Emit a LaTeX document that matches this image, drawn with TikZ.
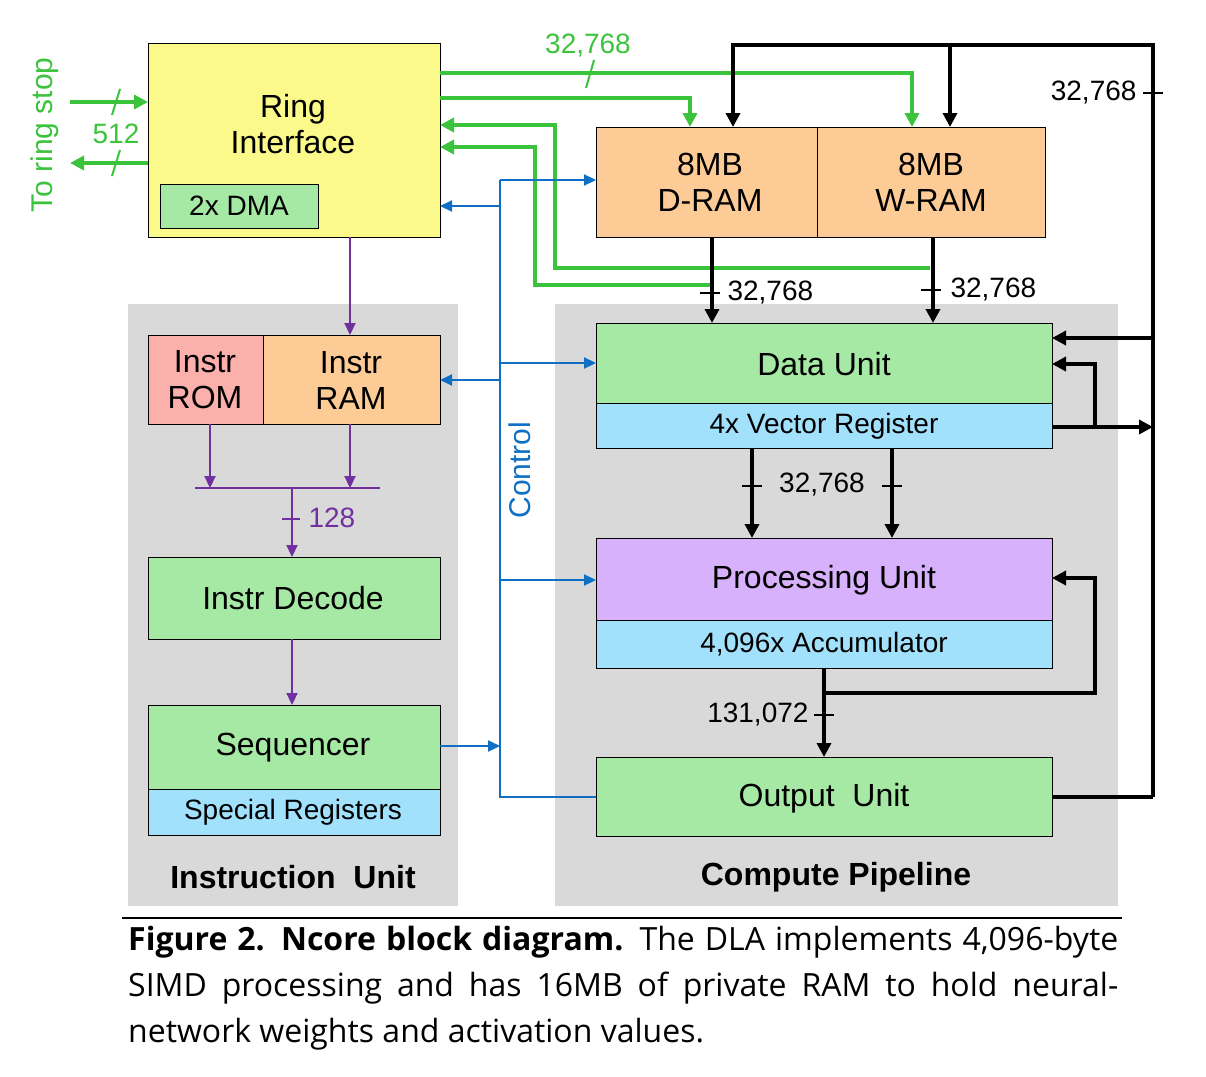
\documentclass[tikz,border=0pt]{standalone}
\usepackage{fontspec}
\setmainfont{Liberation Sans}
\newfontfamily\capfont{Open Sans}
\usetikzlibrary{arrows.meta}
\definecolor{cyel}{HTML}{FBF98A}
\definecolor{cgrn}{HTML}{A6E9A4}
\definecolor{corg}{HTML}{FDCB95}
\definecolor{cpnk}{HTML}{FBB0AC}
\definecolor{ccyn}{HTML}{A1E1FB}
\definecolor{cpur}{HTML}{D7B1FB}
\definecolor{cgry}{HTML}{D9D9D9}
\definecolor{lgrn}{HTML}{3BC43B}
\definecolor{lblu}{HTML}{0E6FC4}
\definecolor{lpur}{HTML}{7030A0}
\begin{document}
\begin{tikzpicture}[x=1pt,y=-1pt,
  box/.style={draw=black,line width=1.2pt,inner sep=0pt,anchor=north west},
  txt/.style={font=\fontsize{32}{36}\selectfont,align=center},
  stxt/.style={font=\fontsize{28}{30}\selectfont},
  gl/.style={draw=lgrn,line width=4pt},
  bl/.style={draw=black,line width=3.5pt},
  ul/.style={draw=lblu,line width=2.2pt},
  pl/.style={draw=lpur,line width=2.2pt},
  ar/.style={-{Triangle[length=14pt,width=14pt]}},
  sar/.style={-{Triangle[length=12pt,width=11pt]}},
  lab/.style={font=\fontsize{28}{30}\selectfont}]
\useasboundingbox (0,0) rectangle (1206,1076);
% backgrounds
\fill[cgry] (128,304) rectangle (458,906);
\fill[cgry] (555,304) rectangle (1118,906);
% boxes
\node[box,fill=cyel,minimum width=292pt,minimum height=194pt] (ring) at (148,43) {};
\node[txt] at (293,124) {Ring\\Interface};
\node[box,fill=cgrn,minimum width=158pt,minimum height=44pt] (dma) at (160,184) {};
\node[stxt] at (239,206) {2x DMA};
\node[box,fill=corg,minimum width=221pt,minimum height=110pt] (dram) at (596,127) {};
\node[txt] at (710,182) {8MB\\D-RAM};
\node[box,fill=corg,minimum width=228pt,minimum height=110pt] (wram) at (817,127) {};
\node[txt] at (931,182) {8MB\\W-RAM};
\node[box,fill=cpnk,minimum width=115pt,minimum height=89pt] (rom) at (148,335) {};
\node[txt] at (205,380) {Instr\\ROM};
\node[box,fill=corg,minimum width=177pt,minimum height=89pt] (iram) at (263,335) {};
\node[txt] at (351,380) {Instr\\RAM};
\node[box,fill=cgrn,minimum width=292pt,minimum height=82pt] (dec) at (148,557) {};
\node[txt] at (293,598) {Instr Decode};
\node[box,fill=cgrn,minimum width=292pt,minimum height=84pt] (seq) at (148,705) {};
\node[txt] at (293,748) {Sequencer};
\node[box,fill=ccyn,minimum width=292pt,minimum height=46pt] (spec) at (148,789) {};
\node[stxt] at (293,812) {Special Registers};
\node[box,fill=cgrn,minimum width=456pt,minimum height=80pt] (du) at (596,323) {};
\node[txt] at (824,364) {Data Unit};
\node[box,fill=ccyn,minimum width=456pt,minimum height=45pt] (vr) at (596,403) {};
\node[stxt] at (824,426) {4x Vector Register};
\node[box,fill=cpur,minimum width=456pt,minimum height=82pt] (pu) at (596,538) {};
\node[txt] at (824,580) {Processing Unit};
\node[box,fill=ccyn,minimum width=456pt,minimum height=48pt] (acc) at (596,620) {};
\node[stxt] at (824,644) {4,096x Accumulator};
\node[box,fill=cgrn,minimum width=456pt,minimum height=79pt] (ou) at (596,757) {};
\node[txt] at (824,798) {Output\ \ Unit};
\node[font=\bfseries\fontsize{32}{36}\selectfont] (iu) at (293,877) {Instruction\ \ Unit};
\node[font=\bfseries\fontsize{32}{36}\selectfont] (cp) at (836,877) {Compute Pipeline};
% green
\draw[gl,ar] (440,73) -- (912,73) -- (912,127);
\draw[gl,ar] (440,98) -- (690,98) -- (690,127);
\draw[gl,ar] (930,268) -- (555,268) -- (555,125) -- (440,125);
\draw[gl,ar] (712,285) -- (535,285) -- (535,147) -- (440,147);
\draw[lgrn,line width=2pt] (586,88) -- (594,60);
\node[lab,text=lgrn] at (588,46) {32,768};
\draw[gl,ar] (70,102) -- (148,102);
\draw[gl,ar] (148,163) -- (70,163);
\draw[lgrn,line width=2pt] (112,115) -- (120,89) (112,176) -- (120,150);
\node[lab,text=lgrn] at (116,134) {512};
\node[font=\fontsize{30}{32}\selectfont,text=lgrn,rotate=90] at (45,135) {To ring stop};
% black
\draw[bl,ar] (1153,797) -- (1153,45) -- (733,45) -- (733,127);
\draw[bl,ar] (950,45) -- (950,127);
\draw[black,line width=2pt] (1143,93) -- (1163,93);
\node[lab,anchor=east] at (1140,93) {32,768};
\draw[bl,ar] (1153,338) -- (1052,338);
\draw[bl,ar] (1052,427) -- (1153,427);
\draw[bl,ar] (1095,427) -- (1095,364) -- (1052,364);
\draw[bl,ar] (712,237) -- (712,323);
\draw[bl,ar] (933,237) -- (933,323);
\draw[black,line width=2pt] (700,293) -- (720,293) (921,290) -- (941,290);
\node[lab,anchor=west] at (724,293) {32,768};
\node[lab,anchor=west] at (947,290) {32,768};
\draw[bl,ar] (752,448) -- (752,538);
\draw[bl,ar] (892,448) -- (892,538);
\draw[black,line width=2pt] (742,486) -- (762,486) (882,486) -- (902,486);
\node[lab] at (822,485) {32,768};
\draw[bl,ar] (824,668) -- (824,757);
\draw[bl,ar] (824,693) -- (1095,693) -- (1095,578) -- (1052,578);
\draw[black,line width=2pt] (814,715) -- (834,715);
\node[lab,anchor=east] at (812,715) {131,072};
\draw[bl] (1052,797) -- (1153,797);
% purple
\draw[pl,sar] (350,237) -- (350,335);
\draw[pl,sar] (210,424) -- (210,488);
\draw[pl,sar] (350,424) -- (350,488);
\draw[pl] (195,488) -- (380,488);
\draw[pl,sar] (292,488) -- (292,557);
\draw[lpur,line width=1.5pt] (282,519) -- (300,519);
\node[lab,text=lpur,anchor=west] at (305,518) {128};
\draw[pl,sar] (292,639) -- (292,705);
% blue
\draw[ul] (500,180) -- (500,797) -- (596,797);
\draw[ul,sar] (500,180) -- (596,180);
\draw[ul,sar] (500,206) -- (440,206);
\draw[ul,sar] (500,380) -- (440,380);
\draw[ul,sar] (500,363) -- (596,363);
\draw[ul,sar] (500,580) -- (596,580);
\draw[ul,sar] (440,746) -- (500,746);
\node[font=\fontsize{30}{32}\selectfont,text=lblu,rotate=90] at (520,470) {Control};
% caption
\draw[black,line width=1.2pt] (122,918) -- (1122,918);
\node[anchor=north west,text width=990pt,align=justify,inner sep=0pt,
  font=\capfont\fontsize{32}{46}\selectfont] at (128,926)
  {\textbf{Figure 2. Ncore block diagram.} The DLA implements 4,096-byte SIMD processing and has 16MB of private RAM to hold neural-network weights and activation values.};
\end{tikzpicture}
\end{document}
